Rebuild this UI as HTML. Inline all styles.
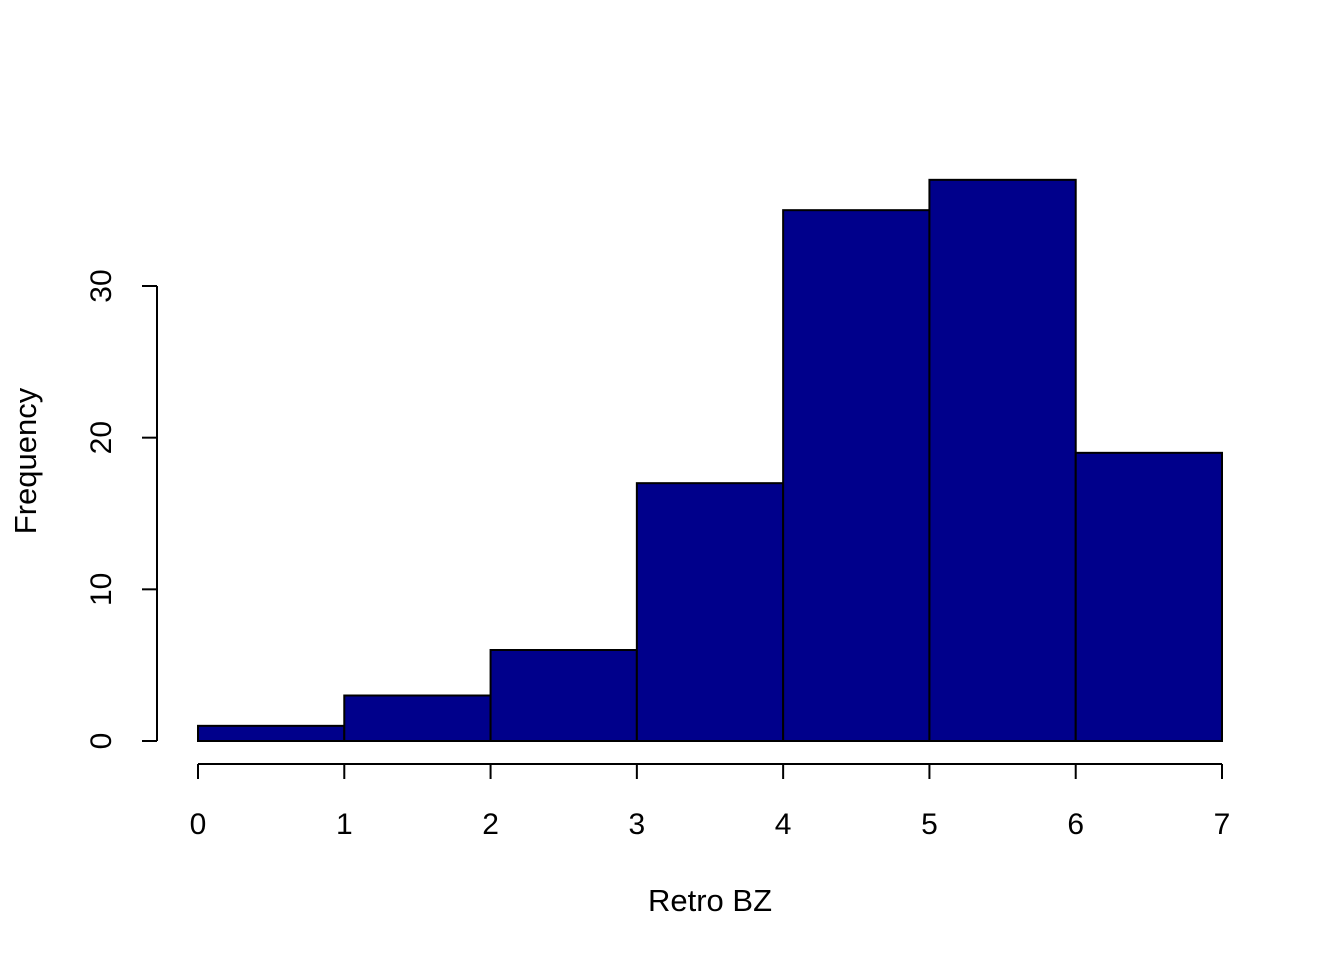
<!DOCTYPE html>
<html><head><meta charset="utf-8"><style>
html,body{margin:0;padding:0;background:#fff;}
svg text{font-family:"Liberation Sans",Arial,sans-serif;fill:#000;}
</style></head><body>
<svg id="chart" width="1344" height="960" xmlns="http://www.w3.org/2000/svg">
<g id="bars"></g>
<g id="xaxis"></g>
<g id="yaxis"></g>
<text x="710" y="911" font-size="31" text-anchor="middle">Retro BZ</text>
<text transform="translate(36,461) rotate(-90)" font-size="31" text-anchor="middle">Frequency</text>
</svg>
<script>
const breaks = [0,1,2,3,4,5,6,7];
const counts = [1,3,6,17,35,37,19];
const xTicks = [0,1,2,3,4,5,6,7];
const yTicks = [0,10,20,30];
const NS="http://www.w3.org/2000/svg";
function sx(v){return 198+v*(1222-198)/7;}
function sy(v){return 741-v*(741-286)/30;}
function mk(tag,attrs,parent){const e=document.createElementNS(NS,tag);for(const k in attrs)e.setAttribute(k,attrs[k]);parent.appendChild(e);return e;}
const bars=document.getElementById('bars');
counts.forEach((c,i)=>{
  const r=mk('rect',{x:sx(breaks[i]),y:sy(c),width:sx(breaks[i+1])-sx(breaks[i]),height:sy(0)-sy(c),fill:'#00008B',stroke:'#000','stroke-width':2},bars);
  
  
});
const xa=document.getElementById('xaxis');
mk('line',{x1:sx(xTicks[0]),x2:sx(xTicks[xTicks.length-1]),y1:764,y2:764,stroke:'#000','stroke-width':2},xa);
xTicks.forEach(t=>{
  mk('line',{x1:sx(t),x2:sx(t),y1:764,y2:779,stroke:'#000','stroke-width':2},xa);
  const tx=mk('text',{x:sx(t),y:834,'font-size':30,'text-anchor':'middle'},xa);
  tx.textContent=t;
  
  
});
const ya=document.getElementById('yaxis');
mk('line',{x1:157,x2:157,y1:sy(yTicks[0]),y2:sy(yTicks[yTicks.length-1]),stroke:'#000','stroke-width':2},ya);
yTicks.forEach(t=>{
  mk('line',{x1:142,x2:157,y1:sy(t),y2:sy(t),stroke:'#000','stroke-width':2},ya);
  const tx=mk('text',{transform:'translate(111,'+sy(t)+') rotate(-90)','font-size':30,'text-anchor':'middle'},ya);
  tx.textContent=t;
  
  
});
</script>
</body></html>
